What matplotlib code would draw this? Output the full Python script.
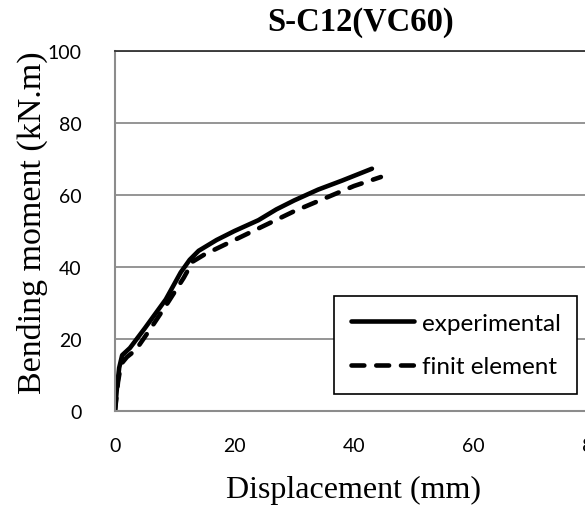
import matplotlib.pyplot as plt
import numpy as np

# datos
exp_x = [0, 0.3, 0.7, 1.2, 2.5, 5, 8.5, 11, 12.5, 14, 17, 20, 24, 27, 30, 34, 38, 43]
exp_y = [0, 6, 12, 15.5, 17.5, 23, 31, 38.5, 42, 44.5, 47.5, 50, 53, 56, 58.5, 61.5, 64, 67.3]
fe_x = [0, 0.5, 1, 2, 3.5, 6, 9, 11.5, 13, 15, 20, 25, 30, 35, 40, 44.5]
fe_y = [0, 8, 13, 15, 17, 23, 30.5, 37, 41.5, 43.5, 47.5, 51.5, 55.5, 59, 62.5, 65]
xticks = [0, 20, 40, 60, 80]
yticks = [0, 20, 40, 60, 80, 100]

fig = plt.figure(figsize=(5.85, 5.06), dpi=100)
ax = fig.add_axes([115/585, 94/506, 478/585, 360/506])

ax.plot(exp_x, exp_y, color="black", lw=3.3, solid_capstyle="round",
        solid_joinstyle="round", label="experimental")
ax.plot(fe_x, fe_y, color="black", lw=3.3, linestyle=(0, (2.8, 2.6)),
        dash_capstyle="round", label="finit element")

ax.set_xlim(0, 80)
ax.set_ylim(0, 100)
ax.set_xticks(xticks)
ax.set_yticks(yticks)
ax.grid(axis="y", color="#8c8c8c", lw=1.3)
ax.set_axisbelow(True)
ax.spines["right"].set_visible(False)
ax.spines["top"].set_color("#333333")
ax.spines["top"].set_linewidth(1.3)
ax.spines["left"].set_color("#8c8c8c")
ax.spines["left"].set_linewidth(1.5)
ax.spines["bottom"].set_color("#8c8c8c")
ax.spines["bottom"].set_linewidth(1.5)
ax.tick_params(length=0, labelsize=14)
ax.tick_params(axis="y", pad=24)
ax.tick_params(axis="x", pad=19)
for t in ax.get_xticklabels() + ax.get_yticklabels():
    t.set_family("Lato")

ax.set_title("S-C12(VC60)", family="Liberation Serif", fontweight="bold",
             fontsize=23.5, pad=15, x=0.513)
ax.set_xlabel("Displacement (mm)", family="Liberation Serif", fontsize=23, labelpad=15)
ax.set_ylabel("Bending moment (kN.m)", family="Liberation Serif", fontsize=24.5)
ax.yaxis.set_label_coords(-0.14, 0.525)

leg = ax.legend(loc="lower left", bbox_to_anchor=(219/478, 17/360, 243/478, 96/360),
                mode="expand", borderaxespad=0, prop={"family": "Lato", "size": 17.5},
                fancybox=False, edgecolor="black", framealpha=1,
                handlelength=2.6, handletextpad=0.35, borderpad=0.68, labelspacing=0.93)
leg.get_frame().set_linewidth(1.2)

fig.savefig("out.png", dpi=100)
